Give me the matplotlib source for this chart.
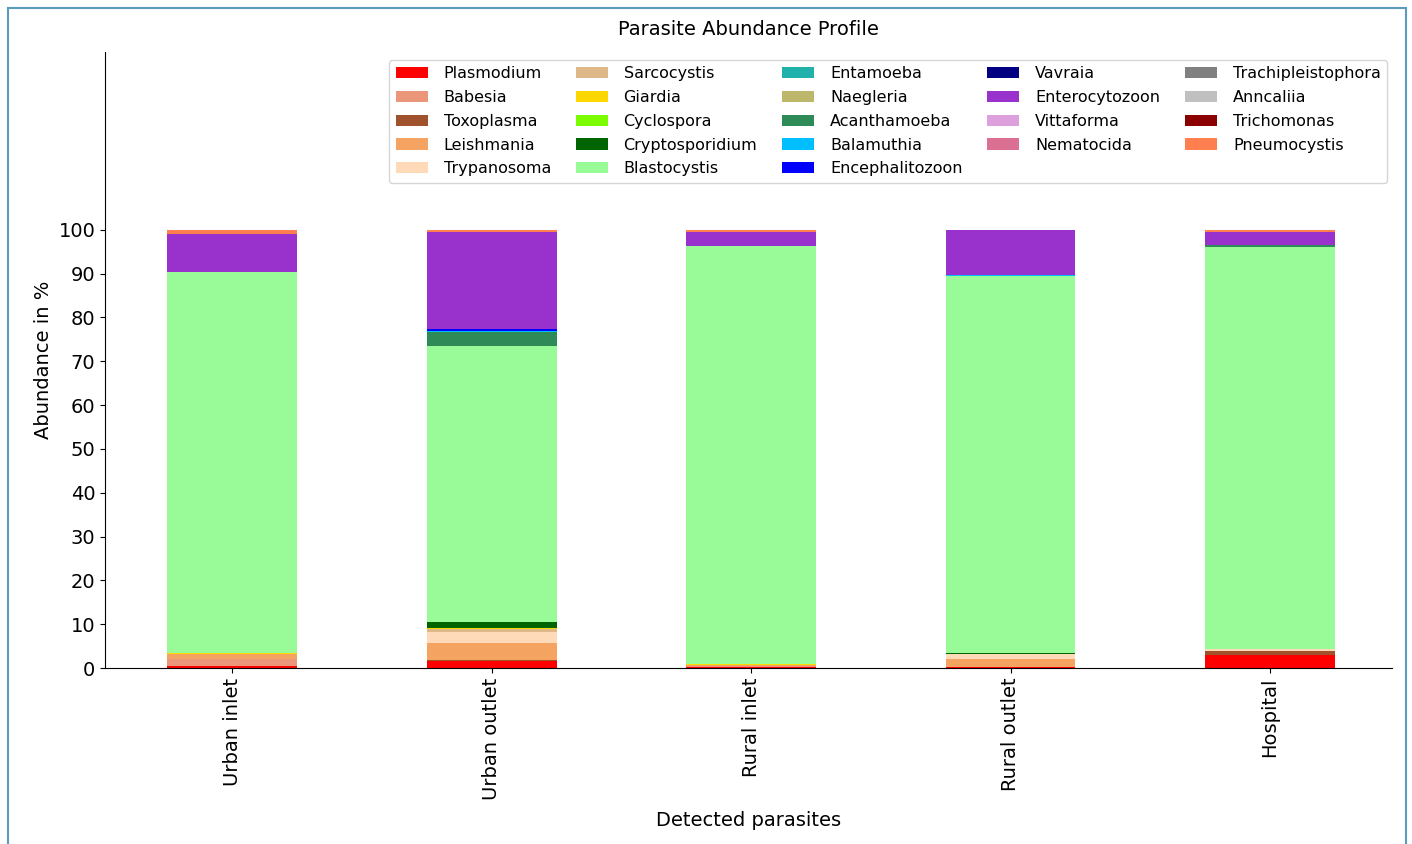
import matplotlib
matplotlib.use("Agg")
import matplotlib.pyplot as plt
from matplotlib.patches import Rectangle
import numpy as np

sites = ["Urban inlet", "Urban outlet", "Rural inlet", "Rural outlet", "Hospital"]

parasites = ["Plasmodium", "Babesia", "Toxoplasma", "Leishmania", "Trypanosoma",
             "Sarcocystis", "Giardia", "Cyclospora", "Cryptosporidium", "Blastocystis",
             "Entamoeba", "Naegleria", "Acanthamoeba", "Balamuthia", "Encephalitozoon",
             "Vavraia", "Enterocytozoon", "Vittaforma", "Nematocida",
             "Trachipleistophora", "Anncaliia", "Trichomonas", "Pneumocystis"]

colors = ["red", "darksalmon", "sienna", "sandybrown", "peachpuff",
          "burlywood", "gold", "lawngreen", "darkgreen", "palegreen",
          "lightseagreen", "darkkhaki", "seagreen", "deepskyblue", "blue",
          "navy", "darkorchid", "plum", "palevioletred",
          "gray", "silver", "darkred", "coral"]

# abundance (%) per site, order as in `sites`
Plasmodium         = [0.5, 1.6, 0.2, 0.3, 3.0]
Babesia            = [1.5, 0.0, 0.2, 0.0, 0.0]
Toxoplasma         = [0.0, 0.2, 0.0, 0.0, 0.8]
Leishmania         = [1.3, 4.0, 0.2, 1.8, 0.0]
Trypanosoma        = [0.0, 2.5, 0.0, 1.0, 0.5]
Sarcocystis        = [0.0, 0.5, 0.0, 0.0, 0.0]
Giardia            = [0.2, 0.3, 0.3, 0.0, 0.0]
Cyclospora         = [0.0, 0.0, 0.0, 0.0, 0.0]
Cryptosporidium    = [0.0, 1.5, 0.0, 0.3, 0.0]
Blastocystis       = [86.8, 62.9, 95.3, 86.1, 91.7]
Entamoeba          = [0.0, 0.0, 0.0, 0.0, 0.0]
Naegleria          = [0.0, 0.0, 0.0, 0.0, 0.0]
Acanthamoeba       = [0.0, 3.1, 0.0, 0.0, 0.6]
Balamuthia         = [0.0, 0.3, 0.0, 0.3, 0.0]
Encephalitozoon    = [0.0, 0.4, 0.0, 0.0, 0.0]
Vavraia            = [0.0, 0.0, 0.0, 0.0, 0.0]
Enterocytozoon     = [8.7, 22.3, 3.4, 10.2, 3.0]
Vittaforma         = [0.0, 0.0, 0.0, 0.0, 0.0]
Nematocida         = [0.0, 0.0, 0.0, 0.0, 0.0]
Trachipleistophora = [0.0, 0.0, 0.0, 0.0, 0.0]
Anncaliia          = [0.0, 0.0, 0.0, 0.0, 0.0]
Trichomonas        = [0.0, 0.0, 0.0, 0.0, 0.0]
Pneumocystis       = [1.0, 0.4, 0.4, 0.0, 0.4]

values = [Plasmodium, Babesia, Toxoplasma, Leishmania, Trypanosoma,
          Sarcocystis, Giardia, Cyclospora, Cryptosporidium, Blastocystis,
          Entamoeba, Naegleria, Acanthamoeba, Balamuthia, Encephalitozoon,
          Vavraia, Enterocytozoon, Vittaforma, Nematocida,
          Trachipleistophora, Anncaliia, Trichomonas, Pneumocystis]

fig = plt.figure(figsize=(14.12, 8.44), dpi=100)
ax = fig.add_axes([0.0744, 0.2085, 0.9114, 0.73])

x = np.arange(len(sites))
bottom = np.zeros(len(sites))
for name, col, vals in zip(parasites, colors, values):
    v = np.array(vals, dtype=float)
    ax.bar(x, v, width=0.5, bottom=bottom, color=col, label=name, linewidth=0)
    bottom += v

ax.set_xlim(-0.49, 4.47)
ax.set_ylim(0, 140.6)
ax.set_yticks(np.arange(0, 101, 10))
ax.set_xticks(x)
ax.set_xticklabels(sites, rotation=90, fontsize=14)
ax.tick_params(axis='y', labelsize=14)
ax.spines['top'].set_visible(False)
ax.spines['right'].set_visible(False)
ax.set_xlabel("Detected parasites", fontsize=14, labelpad=8)
ax.set_ylabel("Abundance in %", fontsize=14)
ax.set_title("Parasite Abundance Profile", fontsize=14, pad=12)

ax.legend(ncol=5, loc='upper right', bbox_to_anchor=(1.0, 0.995), fontsize=11.5,
          frameon=True, fancybox=True, columnspacing=1.55, handletextpad=1.0,
          labelspacing=0.55, borderaxespad=0.3)

fig.patches.append(Rectangle((8 / 1412, -0.05), (1406 - 8) / 1412, 1 - 8 / 844 + 0.05,
                             transform=fig.transFigure, fill=False,
                             edgecolor='#5b9bbb', linewidth=1.5))

fig.savefig("out.png", dpi=100)
